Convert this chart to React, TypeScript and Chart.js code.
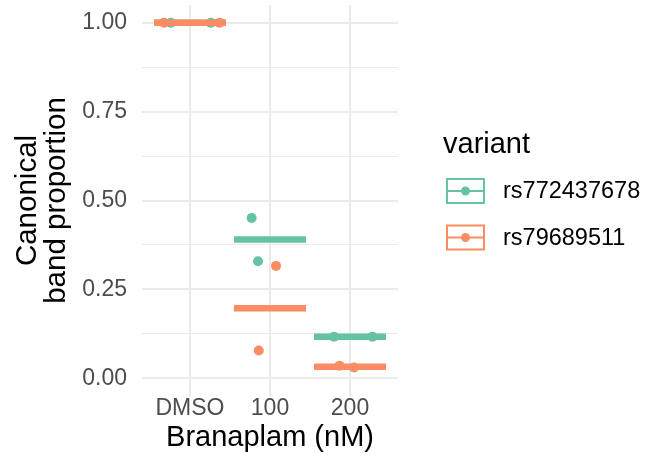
import React, { useEffect, useRef } from 'react';
import { Chart, registerables } from 'chart.js';

Chart.register(...registerables);

const categories = ['DMSO', '100', '200'];
const seriesNames = ['rs772437678', 'rs79689511'];
const seriesColors = ['#66C2A5', '#FC8D62'];
// replicate values for each category
const rs772437678Values = [[1.0, 1.0], [0.451, 0.329], [0.117, 0.117]];
const rs79689511Values = [[1.0, 1.0], [0.316, 0.078], [0.035, 0.03]];
// horizontal jitter (category units)
const rs772437678Jitter = [[-0.24, 0.26], [-0.23, -0.15], [-0.2, 0.28]];
const rs79689511Jitter = [[-0.325, 0.37], [0.075, -0.14], [-0.13, 0.05]];
const yMajorTicks = [0, 0.25, 0.5, 0.75, 1.0];
const yMinorTicks = [0.125, 0.375, 0.625, 0.875];
const xTitle = 'Branaplam (nM)';
const yTitle = ['Canonical', 'band proportion'];
const legendTitle = 'variant';

const FONT = "'Liberation Sans', Arial, sans-serif";
const CROSSBAR_HALF = 0.45;

const allValues = [rs772437678Values, rs79689511Values];
const allJitter = [rs772437678Jitter, rs79689511Jitter];

function pointData(s: number) {
  const out: { x: number; y: number }[] = [];
  allValues[s].forEach((vals, i) => {
    vals.forEach((v, j) => out.push({ x: i + 1 + allJitter[s][i][j], y: v }));
  });
  return out;
}

function meanData(s: number) {
  const out: { x: number; y: number | null }[] = [];
  allValues[s].forEach((vals, i) => {
    const m = vals.reduce((a, b) => a + b, 0) / vals.length;
    out.push({ x: i + 1 - CROSSBAR_HALF, y: m });
    out.push({ x: i + 1 + CROSSBAR_HALF, y: m });
    out.push({ x: i + 1.5, y: null });
  });
  return out;
}

const legendPlugin = {
  id: 'ggLegend',
  afterDraw(chart: any) {
    const ctx = chart.ctx as CanvasRenderingContext2D;
    ctx.save();
    ctx.fillStyle = '#000000';
    ctx.font = `29px ${FONT}`;
    ctx.textAlign = 'left';
    ctx.textBaseline = 'alphabetic';
    ctx.fillText(legendTitle, 443, 153);
    const keyX = 447;
    const keyW = 37;
    const keyH = 24;
    const centers = [191, 237.5];
    seriesNames.forEach((name, i) => {
      const cy = centers[i];
      ctx.strokeStyle = seriesColors[i];
      ctx.lineWidth = 2;
      ctx.strokeRect(keyX, cy - keyH / 2, keyW, keyH);
      ctx.beginPath();
      ctx.moveTo(keyX, cy);
      ctx.lineTo(keyX + keyW, cy);
      ctx.stroke();
      ctx.fillStyle = seriesColors[i];
      ctx.beginPath();
      ctx.arc(keyX + keyW / 2, cy, 4.5, 0, Math.PI * 2);
      ctx.fill();
      ctx.fillStyle = '#000000';
      ctx.font = `23.5px ${FONT}`;
      ctx.textBaseline = 'middle';
      ctx.fillText(name, 503, cy + 1);
    });
    ctx.restore();
  },
};

export default function App() {
  const ref = useRef<HTMLCanvasElement | null>(null);
  useEffect(() => {
    if (!ref.current) return;
    const datasets: any[] = [];
    // crossbars: orange drawn on top
    datasets.push({
      type: 'line', label: seriesNames[1] + ' mean', data: meanData(1),
      borderColor: seriesColors[1], borderWidth: 6.5, pointRadius: 0, spanGaps: false,
      borderCapStyle: 'butt', order: 0,
    });
    datasets.push({
      type: 'line', label: seriesNames[0] + ' mean', data: meanData(0),
      borderColor: seriesColors[0], borderWidth: 6.5, pointRadius: 0, spanGaps: false,
      borderCapStyle: 'butt', order: 1,
    });
    datasets.push({
      type: 'line', label: seriesNames[1], data: pointData(1), showLine: false,
      pointRadius: 5, pointBorderWidth: 0, pointBackgroundColor: seriesColors[1],
      pointBorderColor: seriesColors[1], order: 2,
    });
    datasets.push({
      type: 'line', label: seriesNames[0], data: pointData(0), showLine: false,
      pointRadius: 5, pointBorderWidth: 0, pointBackgroundColor: seriesColors[0],
      pointBorderColor: seriesColors[0], order: 3,
    });

    const yAll = [...yMajorTicks, ...yMinorTicks].sort((a, b) => a - b);

    const chart = new Chart(ref.current, {
      type: 'line',
      data: { datasets },
      plugins: [legendPlugin],
      options: {
        animation: false,
        responsive: false,
        events: [],
        layout: { padding: { top: 2, right: 252, bottom: 0, left: 0 } },
        plugins: { legend: { display: false }, tooltip: { enabled: false } },
        scales: {
          x: {
            type: 'linear',
            min: 0.4,
            max: 3.6,
            afterBuildTicks: (scale: any) => {
              scale.ticks = categories.map((_, i) => ({ value: i + 1 }));
            },
            afterFit: (scale: any) => {
              scale.height = 70;
              scale.paddingLeft = 0;
              scale.paddingRight = 0;
            },
            border: { display: false },
            grid: { color: '#EBEBEB', lineWidth: 2, drawTicks: false },
            ticks: {
              padding: 0,
              autoSkip: false,
              maxRotation: 0,
              color: '#4D4D4D',
              font: { family: FONT, size: 23, lineHeight: 1.1 },
              callback: (v: any) => categories[Math.round(Number(v)) - 1] ?? '',
            },
            title: {
              display: true,
              text: xTitle,
              color: '#000000',
              font: { family: FONT, size: 29, lineHeight: 1.2 },
              padding: { top: 0, bottom: 11 },
            },
          },
          y: {
            type: 'linear',
            min: -0.05,
            max: 1.05,
            afterBuildTicks: (scale: any) => {
              scale.ticks = yAll.map((v) => ({ value: v }));
            },
            afterFit: (scale: any) => {
              scale.width = 142;
              scale.paddingTop = 0;
              scale.paddingBottom = 0;
            },
            border: { display: false },
            grid: {
              color: '#EBEBEB',
              drawTicks: false,
              lineWidth: (c: any) => (yMajorTicks.includes(c.tick?.value) ? 2 : 1),
            },
            ticks: {
              padding: 15,
              autoSkip: false,
              color: '#4D4D4D',
              font: { family: FONT, size: 23, lineHeight: 1.1 },
              callback: (v: any) => (yMajorTicks.includes(Number(v)) ? Number(v).toFixed(2) : ''),
            },
            title: {
              display: true,
              text: yTitle,
              color: '#000000',
              font: { family: FONT, size: 29.5, lineHeight: 1.0 },
              padding: { top: 13, bottom: 0 },
            },
          },
        },
      } as any,
    });
    return () => chart.destroy();
  }, []);
  return (
    <div style={{ position: 'absolute', left: 0, top: 0, width: 650, height: 466, background: '#ffffff' }}>
      <canvas ref={ref} width={650} height={466} style={{ width: 650, height: 466, display: 'block' }} />
    </div>
  );
}
